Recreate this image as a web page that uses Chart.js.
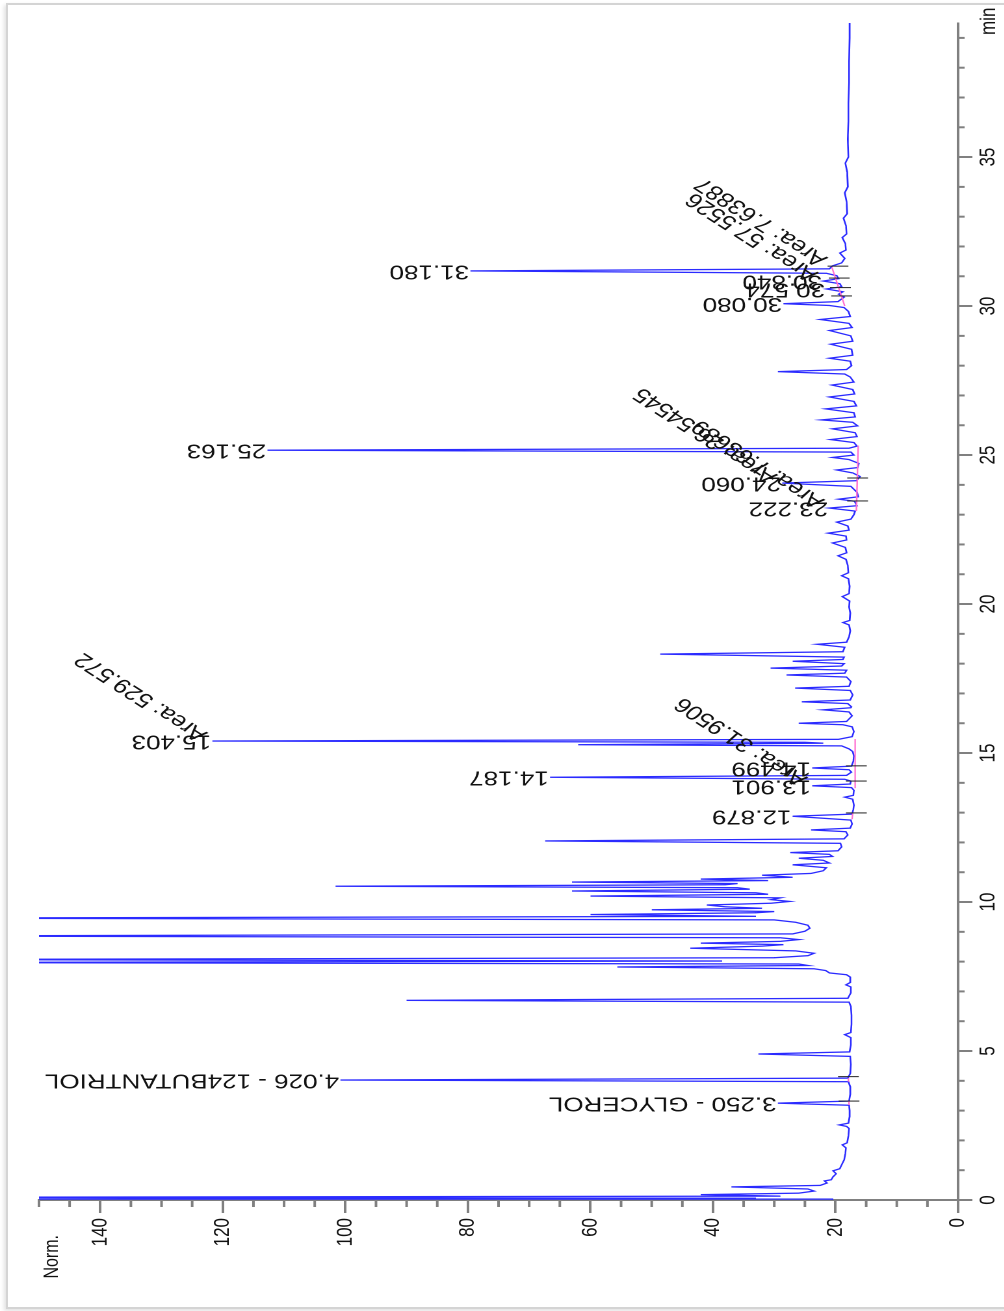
<!DOCTYPE html>
<html>
<head>
<meta charset="utf-8">
<script src="https://cdn.jsdelivr.net/npm/chart.js@4.4.1/dist/chart.umd.min.js"></script>
<style>
  html, body { margin: 0; padding: 0; background: #fff; overflow: hidden; }
  body { width: 1004px; height: 1311px; position: relative; }
  /* the printout is turned a quarter turn and a bit stretched across */
  #wrap {
    position: absolute; left: 0; top: 0; width: 1311px; height: 772px;
    transform-origin: 0 0;
    transform: translateY(1311px) rotate(-90deg) scale(1, 1.3);
  }
  #frame {
    position: absolute; left: 6px; top: 3px; width: 1000px; height: 1302px;
    border: 2px solid #d4d4d4; border-right: none;
    box-shadow: -2px 2px 4px rgba(0,0,0,0.12);
    pointer-events: none;
  }
</style>
</head>
<body>
<div id="wrap"><canvas id="myChart" width="1311" height="772"></canvas></div>
<div id="frame"></div>
<script>
// detector trace, [time (min), signal (Norm.)]
var trace = [
  [0.00, 20.5], [0.03, 175], [0.06, 33], [0.09, 175], [0.13, 29], [0.18, 42], [0.23, 26],
  [0.30, 23.5], [0.37, 24.5], [0.44, 37], [0.49, 22.5], [0.57, 21.4], [0.64, 21.8], [0.68, 20.7],
  [0.78, 20.4], [0.88, 19.9], [0.98, 20.4], [1.05, 19.3], [1.18, 19.0], [1.35, 18.6], [1.55, 18.4],
  [1.75, 18.3], [1.85, 18.9], [1.92, 18.1], [2.15, 17.9], [2.40, 17.8], [2.47, 18.2], [2.52, 19.4], [2.58, 17.9],
  [2.80, 17.7], [3.00, 17.7], [3.18, 17.8], [3.25, 29.4], [3.32, 17.8], [3.55, 17.6], [3.80, 17.6],
  [3.97, 17.9], [4.026, 100.8], [4.09, 18.0], [4.25, 17.6], [4.55, 17.5], [4.82, 17.6], [4.90, 32.6], [4.97, 17.7],
  [5.20, 17.5], [5.45, 17.5], [5.55, 18.5], [5.62, 17.5], [5.90, 17.4], [6.20, 17.4], [6.50, 17.5],
  [6.64, 17.8], [6.70, 90.0], [6.77, 18.0], [6.95, 17.5], [7.15, 17.5], [7.22, 18.3], [7.30, 17.6], [7.48, 17.6],
  [7.56, 18.2], [7.62, 21.0], [7.70, 21.6], [7.76, 23.5], [7.82, 55.6], [7.87, 24.5], [7.92, 26],
  [7.97, 175], [8.02, 38.5], [8.07, 175], [8.13, 30], [8.20, 24.5], [8.28, 23.5], [8.36, 26.5],
  [8.45, 43.7], [8.52, 32], [8.57, 28.5], [8.62, 42], [8.68, 29], [8.74, 26], [8.80, 29],
  [8.86, 175], [8.93, 27], [9.02, 25], [9.12, 24.2], [9.22, 24.5], [9.32, 26.5], [9.40, 30],
  [9.46, 175], [9.52, 33], [9.58, 60], [9.64, 33], [9.68, 30], [9.74, 50], [9.79, 32], [9.84, 38], [9.90, 41],
  [9.96, 30.5], [10.02, 27.5], [10.08, 30.5], [10.14, 29], [10.20, 60], [10.26, 31], [10.31, 33],
  [10.37, 63], [10.43, 34], [10.48, 36], [10.53, 101.6], [10.58, 38], [10.62, 36], [10.67, 63],
  [10.72, 31], [10.77, 42], [10.83, 27], [10.90, 32], [10.96, 24], [11.05, 22], [11.15, 21.5],
  [11.25, 27], [11.31, 21], [11.40, 22], [11.47, 26], [11.53, 20.5], [11.60, 21], [11.66, 27.4], [11.72, 19.6],
  [11.85, 19.0], [11.97, 19.2], [12.05, 67.4], [12.12, 18.6], [12.25, 18.0], [12.36, 18.3], [12.42, 24], [12.48, 17.6],
  [12.62, 17.3], [12.75, 17.5], [12.879, 27.0], [12.95, 17.3], [13.10, 17.1], [13.25, 17.0], [13.45, 17.2],
  [13.52, 18.5], [13.58, 17.1], [13.75, 17.0], [13.84, 17.4], [13.901, 23.8], [13.96, 17.6], [14.06, 17.5],
  [14.12, 18.5], [14.187, 66.6], [14.25, 18.2], [14.36, 17.4], [14.44, 17.8], [14.499, 23.8], [14.56, 17.4],
  [14.72, 17.1], [14.90, 17.0], [15.05, 17.2], [15.14, 17.8], [15.24, 19], [15.28, 62], [15.33, 22],
  [15.36, 25], [15.403, 121.7], [15.46, 19.5], [15.55, 17.3], [15.72, 17.0], [15.88, 17.3], [15.95, 18.8],
  [16.00, 26], [16.06, 18.2], [16.25, 17.3], [16.38, 17.8], [16.45, 22], [16.52, 17.5],
  [16.55, 17.4], [16.66, 18.0], [16.72, 25.5], [16.78, 17.6], [16.95, 17.2], [17.10, 17.6], [17.18, 26.6], [17.24, 17.8],
  [17.40, 17.5], [17.55, 18.2], [17.62, 28], [17.68, 18.5], [17.78, 18.2], [17.85, 30.6], [17.92, 19], [18.00, 18.6],
  [18.08, 27], [18.14, 18.8], [18.22, 18.6], [18.32, 48.6], [18.40, 18.8], [18.55, 18.5], [18.65, 23], [18.72, 18.2],
  [18.90, 17.8], [19.10, 17.6], [19.30, 17.8], [19.38, 18.8], [19.45, 17.7], [19.70, 17.6], [19.90, 17.8],
  [20.10, 17.7], [20.25, 18.9], [20.35, 17.8], [20.60, 17.7], [20.85, 17.9], [20.95, 19.0], [21.05, 17.9],
  [21.30, 18.0], [21.50, 18.3], [21.62, 19.6], [21.72, 18.2], [21.90, 18.4], [22.05, 20.5], [22.15, 18.2],
  [22.28, 18.3], [22.38, 21.2], [22.48, 17.8], [22.62, 18.0], [22.75, 19.8], [22.85, 17.5], [23.00, 17.0],
  [23.12, 16.8], [23.222, 21.0], [23.30, 16.5], [23.45, 16.9], [23.52, 19.5], [23.60, 16.3], [23.75, 16.5],
  [23.85, 17.0], [23.95, 17.5], [24.060, 28.7], [24.14, 16.6], [24.28, 16.0], [24.40, 17.2], [24.50, 19.8],
  [24.58, 16.4], [24.72, 16.2], [24.85, 17.8], [24.92, 20.5], [25.00, 17.0], [25.10, 17.5], [25.163, 112.7],
  [25.23, 17.8], [25.30, 16.5], [25.42, 17.0], [25.52, 20.8], [25.62, 16.5], [25.75, 16.8], [25.88, 20.5],
  [25.98, 16.4], [26.10, 17.2], [26.18, 22.3], [26.28, 16.8], [26.42, 17.0], [26.55, 21.6], [26.65, 16.6],
  [26.80, 17.0], [26.95, 21.0], [27.05, 16.9], [27.20, 17.2], [27.35, 20.6], [27.45, 17.0], [27.62, 17.6],
  [27.72, 18.5], [27.80, 29.4], [27.87, 18.2], [28.00, 17.4], [28.15, 17.6], [28.25, 21.0], [28.35, 17.2],
  [28.55, 17.4], [28.72, 20.8], [28.82, 17.2], [29.00, 17.5], [29.18, 21.0], [29.28, 17.3], [29.42, 17.8],
  [29.55, 22.5], [29.65, 17.6], [29.82, 17.9], [29.95, 18.6], [30.02, 21], [30.080, 28.5], [30.15, 19.6],
  [30.30, 18.6], [30.40, 19.5], [30.48, 18.8], [30.574, 21.5], [30.65, 19.0], [30.75, 19.3], [30.840, 22.0],
  [30.92, 19.5], [31.02, 19.8], [31.10, 21.5], [31.180, 79.6], [31.25, 21.0], [31.35, 20.5], [31.45, 19.0],
  [31.60, 18.5], [31.78, 19.3], [31.88, 18.3], [32.10, 18.4], [32.30, 18.9], [32.42, 18.2], [32.70, 18.3],
  [32.95, 18.7], [33.10, 18.1], [33.50, 18.2], [33.80, 18.5], [34.00, 18.0], [34.50, 18.1], [34.80, 18.4],
  [35.00, 17.9], [35.60, 18.0], [36.20, 17.9], [36.80, 17.9], [37.50, 17.8], [38.20, 17.8], [39.00, 17.7], [39.50, 17.7]
];

// integrated peaks: retention time and compound name
var peakTimes = [3.250, 4.026, 12.879, 13.901, 14.187, 14.499, 15.403, 23.222, 24.060, 25.163, 30.080, 30.574, 30.840, 31.180];
var peakNames = ['GLYCEROL', '124BUTANTRIOL', '', '', '', '', '', '', '', '', '', '', '', ''];

// area notes
var areaTimes = [13.901, 15.403, 23.222, 24.060, 30.840, 31.35];
var areaTexts = ['Area: 31.9506', 'Area: 529.572', 'Area: 7.63689', 'Area: 26.54545', 'Area: 57.5526', 'Area: 7.63887'];

// integration baselines [t0, n0, t1, n1] and peak start/end marks
var baselines = [[3.19, 17.8, 3.31, 17.8], [3.97, 17.9, 4.09, 17.9], [12.78, 17.3, 12.97, 17.2],
                 [13.82, 16.8, 15.47, 16.8], [23.12, 16.6, 25.32, 16.3], [30.00, 18.5, 31.30, 20.6]];
var boundaryTimes = [3.32, 4.14, 12.99, 14.06, 14.57, 23.46, 24.23, 30.34, 30.62, 30.94, 31.34];
var boundaryNorms = [17.8, 17.9, 16.6, 16.6, 16.6, 16.4, 16.4, 19.0, 19.2, 19.4, 19.6];

var timeTicks = [0, 5, 10, 15, 20, 25, 30, 35];
var normTicks = [0, 20, 40, 60, 80, 100, 120, 140];

var FONT = '"Liberation Sans", Arial, sans-serif';
var AXIS = '#808080';

function normAt(t) {
  var best = trace[0];
  trace.forEach(function (p) { if (Math.abs(p[0] - t) < Math.abs(best[0] - t)) best = p; });
  return best[1];
}

var extras = {
  id: 'extras',
  afterDatasetsDraw: function (chart) {
    var ctx = chart.ctx, x = chart.scales.x, y = chart.scales.y;
    ctx.save();

    // pink integration baselines
    ctx.strokeStyle = '#ff70d0';
    ctx.lineWidth = 1.2;
    baselines.forEach(function (b) {
      ctx.beginPath();
      ctx.moveTo(x.getPixelForValue(b[0]), y.getPixelForValue(b[1]));
      ctx.lineTo(x.getPixelForValue(b[2]), y.getPixelForValue(b[3]));
      ctx.stroke();
    });

    // peak start / end marks
    ctx.strokeStyle = '#222';
    ctx.lineWidth = 1;
    boundaryTimes.forEach(function (t, i) {
      var px = x.getPixelForValue(t), py = y.getPixelForValue(boundaryNorms[i]);
      ctx.beginPath();
      ctx.moveTo(px, py - 8);
      ctx.lineTo(px, py + 8);
      ctx.stroke();
    });

    // retention time labels, written up the peak
    ctx.fillStyle = '#111';
    ctx.font = '20px ' + FONT;
    ctx.textAlign = 'left';
    ctx.textBaseline = 'middle';
    peakTimes.forEach(function (t, i) {
      var txt = t.toFixed(3) + (peakNames[i] ? ' - ' + peakNames[i] : '');
      ctx.save();
      ctx.translate(x.getPixelForValue(t), y.getPixelForValue(normAt(t)) - 1);
      ctx.rotate(-Math.PI / 2);
      ctx.fillText(txt, 0, 0);
      ctx.restore();
    });

    // slanted area notes
    ctx.textBaseline = 'alphabetic';
    areaTimes.forEach(function (t, i) {
      ctx.save();
      ctx.translate(x.getPixelForValue(t) + 8, y.getPixelForValue(normAt(t)) - 3);
      ctx.rotate(-50 * Math.PI / 180);
      ctx.fillText(areaTexts[i], 0, 0);
      ctx.restore();
    });
    ctx.restore();
  },
  afterDraw: function (chart) {
    var ctx = chart.ctx, x = chart.scales.x, y = chart.scales.y, area = chart.chartArea;
    ctx.save();
    // minor ticks
    ctx.strokeStyle = AXIS;
    ctx.lineWidth = 2;
    for (var t = 1; t <= 39; t++) {
      if (t % 5 === 0) continue;
      var px = x.getPixelForValue(t);
      ctx.beginPath();
      ctx.moveTo(px, area.bottom);
      ctx.lineTo(px, area.bottom + 5);
      ctx.stroke();
    }
    for (var n = 5; n <= 150; n += 5) {
      if (n % 20 === 0) continue;
      var py = y.getPixelForValue(n);
      ctx.beginPath();
      ctx.moveTo(area.left, py);
      ctx.lineTo(area.left - 7, py);
      ctx.stroke();
    }
    // axis captions
    ctx.fillStyle = '#111';
    ctx.font = '16px ' + FONT;
    ctx.textAlign = 'right';
    ctx.textBaseline = 'middle';
    ctx.fillText('Norm.', area.left - 35, area.top + 10);
    ctx.font = '17px ' + FONT;
    ctx.textAlign = 'left';
    ctx.fillText('min', area.right - 12, area.bottom + 24);
    ctx.restore();
  }
};

var ctx = document.getElementById('myChart').getContext('2d');
var myChart = new Chart(ctx, {
  type: 'scatter',
  data: {
    datasets: [{
      label: 'Signal',
      data: trace.map(function (p) { return { x: p[0], y: p[1] }; }),
      showLine: true,
      borderColor: '#2b2bff',
      borderWidth: 1.3,
      pointRadius: 0,
      tension: 0
    }]
  },
  options: {
    responsive: false,
    animation: false,
    devicePixelRatio: 2,
    layout: { padding: { top: 30, right: 23, left: 0, bottom: 0 } },
    plugins: { legend: { display: false }, tooltip: { enabled: false } },
    scales: {
      x: {
        type: 'linear',
        min: 0,
        max: 39.5,
        afterFit: function (s) { s.height = 35; },
        afterBuildTicks: function (s) { s.ticks = timeTicks.map(function (v) { return { value: v }; }); },
        border: { color: AXIS, width: 2 },
        grid: { drawOnChartArea: false, tickLength: 11, tickColor: AXIS, tickWidth: 2 },
        ticks: { padding: 2, maxRotation: 0, autoSkip: false, color: '#111', font: { family: FONT, size: 17 } }
      },
      y: {
        type: 'linear',
        min: 0,
        max: 150,
        afterFit: function (s) { s.width = 111; },
        afterBuildTicks: function (s) { s.ticks = normTicks.map(function (v) { return { value: v }; }); },
        border: { color: AXIS, width: 2 },
        grid: { drawOnChartArea: false, tickLength: 13, tickColor: AXIS, tickWidth: 2 },
        ticks: { padding: 5, autoSkip: false, color: '#111', font: { family: FONT, size: 17 } }
      }
    }
  },
  plugins: [extras]
});
</script>
</body>
</html>
